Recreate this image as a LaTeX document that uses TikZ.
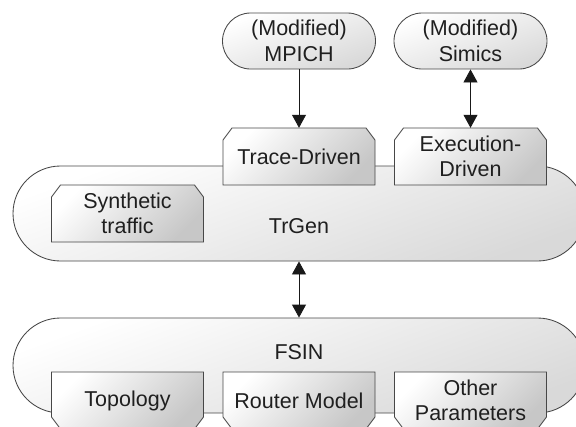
\documentclass[tikz,border=0pt]{standalone}
\usepackage{fontspec}
\setmainfont{Liberation Sans}
\usetikzlibrary{shapes.misc,arrows.meta}

\tikzset{
  edge/.style={draw=black!72, line width=0.85pt},
  pill/.style={rounded rectangle, edge, top color=white, bottom color=black!15,
    shading angle=20, inner sep=0pt},
  boxshape/.style={edge, top color=white, bottom color=black!22, shading angle=45},
  label/.style={font=\fontsize{21.5}{25.5}\selectfont, align=center, text=black!88,
    inner sep=0pt},
  boxtext/.style={label, minimum width=152pt, minimum height=57pt},
  link/.style={line width=0.85pt, draw=black!90},
  >={Triangle[width=14pt,length=13pt]},
}

% chamfered box with cut corners on top (#1 name, #2 centre, #3 text)
\newcommand\upperbox[3]{%
  \path[boxshape] (#2) ++(-76,28.5) -- ++(0,-45) -- ++(9,-12) -- ++(134,0)
    -- ++(9,12) -- ++(0,45) -- cycle;
  \node[boxtext] (#1) at (#2) {#3};}
% chamfered box with cut corners at the bottom
\newcommand\lowerbox[3]{%
  \path[boxshape] (#2) ++(-76,-28.5) -- ++(0,45) -- ++(9,12) -- ++(134,0)
    -- ++(9,-12) -- ++(0,-45) -- cycle;
  \node[boxtext] (#1) at (#2) {#3};}

\begin{document}
\begin{tikzpicture}[x=1pt, y=-1pt]
  \useasboundingbox (0,0) rectangle (576,426);
  \clip (0,0) rectangle (576,426);
  \fill[white] (0,0) rectangle (576,426);

  % simulator front ends
  \node[pill, label, minimum width=153pt, minimum height=56pt] (mpich) at (299,41)
    {(Modified)\\MPICH};
  \node[pill, label, minimum width=153pt, minimum height=56pt] (simics) at (470.5,41)
    {(Modified)\\Simics};

  % traffic generator
  \node[pill, minimum width=572pt, minimum height=95pt] (trgen) at (299,213.5) {};
  \node[label] (trgenlbl) at (299,226) {TrGen};
  \upperbox{trace}{299,156.5}{Trace-Driven}
  \upperbox{exec}{470.5,156.5}{Execution-\\Driven}
  \upperbox{synth}{127.5,213.5}{Synthetic\\traffic}

  % network simulator
  \node[pill, minimum width=572pt, minimum height=95pt] (fsin) at (299,365.5) {};
  \node[label] (fsinlbl) at (299,352) {FSIN};
  \lowerbox{topo}{127.5,400.5}{Topology}
  \lowerbox{router}{299,400.5}{Router Model}
  \lowerbox{other}{470.5,400.5}{Other\\Parameters}

  % connectors
  \draw[link, ->] (mpich.south) -- (trace.north);
  \draw[link, <->] (simics.south) -- (exec.north);
  \draw[link, <->] (trgen.south) -- (fsin.north);
\end{tikzpicture}
\end{document}
